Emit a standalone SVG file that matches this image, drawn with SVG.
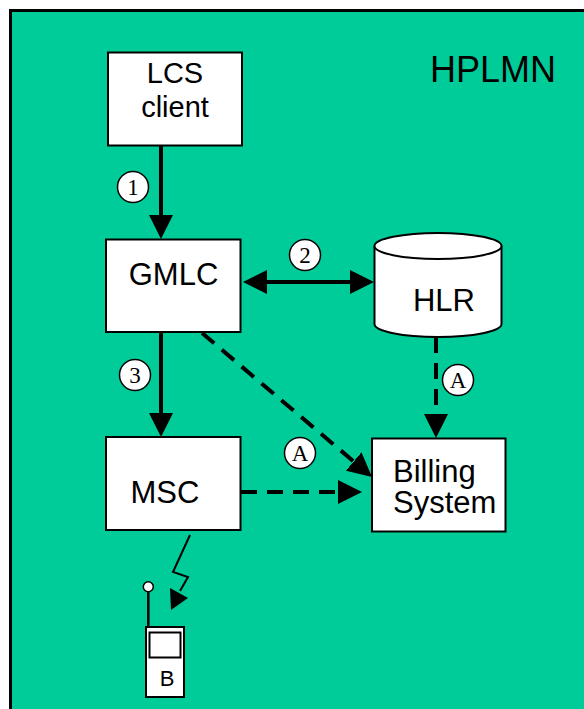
<svg xmlns="http://www.w3.org/2000/svg" width="584" height="709" viewBox="0 0 584 709">
<style>
.box{fill:#fff;stroke:#000;stroke-width:2}
.lbl{font-family:"Liberation Sans",Arial,sans-serif;fill:#000}
.num{fill:#fff;stroke:#000;stroke-width:1.5}
.numt{font-family:"Liberation Serif","Times New Roman",serif;font-size:23px;text-anchor:middle;fill:#000}
.solid{stroke:#000;stroke-width:4;fill:none}
.dash{stroke:#000;stroke-width:4;fill:none;stroke-dasharray:16 10}
</style>
<defs>
<marker id="ah" markerUnits="userSpaceOnUse" viewBox="0 0 24 24" refX="0" refY="12" markerWidth="24" markerHeight="24" orient="auto-start-reverse">
<path d="M0,0 L24,12 L0,24 Z" fill="#000"/>
</marker>
</defs>
<rect x="10.5" y="10.5" width="600" height="720" fill="#00CC99" stroke="#000" stroke-width="3"/>
<text class="lbl" x="430" y="82" font-size="36">HPLMN</text>

<g id="connectors">
<line class="solid" x1="161" y1="146" x2="161" y2="215" marker-end="url(#ah)"/>
<line class="solid" x1="267" y1="282" x2="350" y2="282" marker-start="url(#ah)" marker-end="url(#ah)"/>
<line class="solid" x1="161" y1="332" x2="161" y2="413" marker-end="url(#ah)"/>
<line class="dash" x1="202" y1="333" x2="353.7" y2="461.5" marker-end="url(#ah)"/>
<line class="dash" x1="241" y1="492" x2="338" y2="492" marker-end="url(#ah)"/>
<line class="dash" x1="436" y1="337" x2="436" y2="414" marker-end="url(#ah)"/>
<g id="radio">
<polyline points="190,535 173,572 188,577 180,591" fill="none" stroke="#000" stroke-width="2"/>
<polygon points="170,588 188,598 171,610" fill="#000"/>
</g>
<g id="labels">
<circle class="num" cx="133" cy="187" r="15.5"/><text class="numt" x="133" y="195">1</text>
<circle class="num" cx="305" cy="255" r="15.5"/><text class="numt" x="305" y="263">2</text>
<circle class="num" cx="135" cy="375" r="15.5"/><text class="numt" x="135" y="383">3</text>
<circle class="num" cx="458" cy="380" r="15.5"/><text class="numt" x="458" y="388">A</text>
<circle class="num" cx="300" cy="453" r="15.5"/><text class="numt" x="300" y="461">A</text>
</g>
</g>

<g id="lcs-client">
<rect class="box" x="108" y="52.5" width="134" height="93"/>
<text class="lbl" x="175" y="83" font-size="29" text-anchor="middle">LCS</text>
<text class="lbl" x="175" y="117" font-size="29" text-anchor="middle">client</text>
</g>
<g id="gmlc">
<rect class="box" x="106" y="239.5" width="134.5" height="92.5"/>
<text class="lbl" x="173.5" y="285" font-size="31" text-anchor="middle">GMLC</text>
</g>
<g id="hlr">
<path d="M374.5,246 L374.5,324 A63.5,13 0 0 0 501.5,324 L501.5,246" fill="#fff" stroke="#000" stroke-width="2"/>
<ellipse cx="438" cy="246" rx="63.5" ry="13" fill="#fff" stroke="#000" stroke-width="2"/>
<text class="lbl" x="444" y="311" font-size="31" text-anchor="middle">HLR</text>
</g>
<g id="msc">
<rect class="box" x="106" y="437" width="134.5" height="93"/>
<text class="lbl" x="165" y="503" font-size="31" text-anchor="middle">MSC</text>
</g>
<g id="billing">
<rect class="box" x="372" y="438.5" width="133.5" height="93"/>
<text class="lbl" x="393" y="482" font-size="31">Billing</text>
<text class="lbl" x="393" y="513" font-size="31">System</text>
</g>
<g id="mobile">
<line x1="148.3" y1="592" x2="148.3" y2="627" stroke="#000" stroke-width="2.5"/>
<circle cx="148.3" cy="586.7" r="5" fill="#fff" stroke="#000" stroke-width="1.5"/>
<rect x="146" y="627" width="38" height="70" fill="#fff" stroke="#000" stroke-width="2"/>
<rect x="149.5" y="632.5" width="31" height="25" fill="#fff" stroke="#000" stroke-width="2"/>
<text class="lbl" x="167" y="686" font-size="22" text-anchor="middle">B</text>
</g>
</svg>
